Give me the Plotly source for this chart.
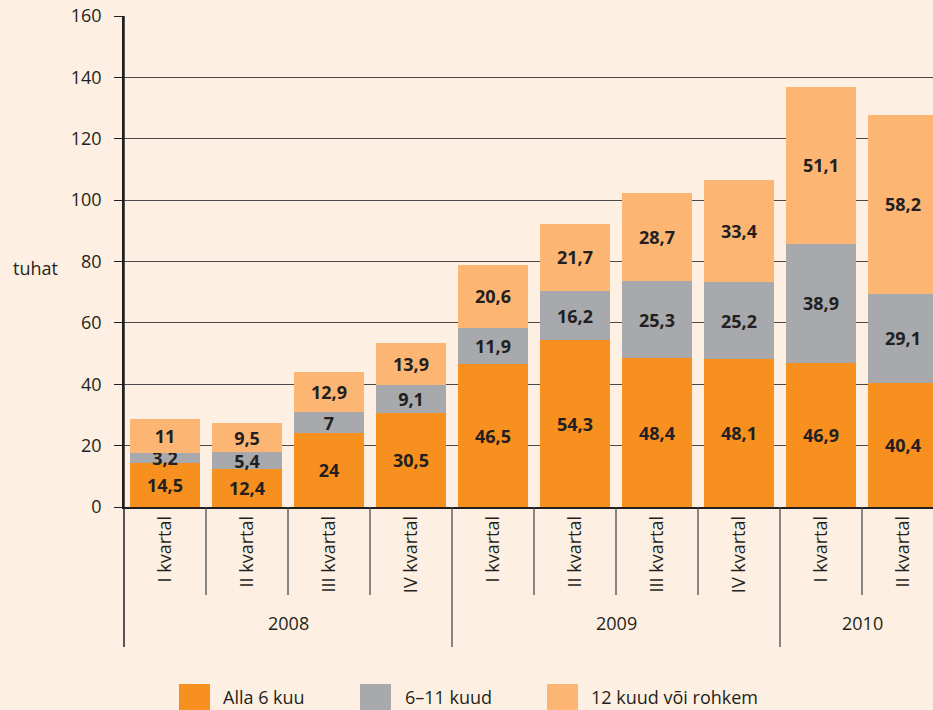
import plotly.graph_objects as go

# ---- data ----
quarters = ["I kvartal", "II kvartal", "III kvartal", "IV kvartal",
            "I kvartal", "II kvartal", "III kvartal", "IV kvartal",
            "I kvartal", "II kvartal"]
years = ["2008", "2009", "2010"]
year_spans = [4, 4, 2]
series_names = ["Alla 6 kuu", "6–11 kuud", "12 kuud või rohkem"]
alla6 = [14.5, 12.4, 24, 30.5, 46.5, 54.3, 48.4, 48.1, 46.9, 40.4]
kuud6_11 = [3.2, 5.4, 7, 9.1, 11.9, 16.2, 25.3, 25.2, 38.9, 29.1]
kuud12 = [11, 9.5, 12.9, 13.9, 20.6, 21.7, 28.7, 33.4, 51.1, 58.2]
y_unit = "tuhat"
y_ticks = [0, 20, 40, 60, 80, 100, 120, 140, 160]

colors = ["#F7901E", "#A7A9AC", "#FDB574"]
BG = "#FDF0E2"
TXT = "#231F20"
FONT = "Open Sans"

W, H = 933, 710
L, T, B = 124, 16, 203
PW, PH = W - L, H - T - B


def fmt(v):
    s = ("%g" % v)
    return s.replace(".", ",")


def px_x(px):
    return (px - L) / PW


def px_y(py):
    return (H - B - py) / PH


x = list(range(len(quarters)))
fig = go.Figure()
for name, vals, c in zip(series_names, [alla6, kuud6_11, kuud12], colors):
    fig.add_trace(go.Bar(
        x=x, y=vals, name=name, marker=dict(color=c, line=dict(width=0)),
        text=[fmt(v) for v in vals], textposition="inside",
        insidetextanchor="middle", textangle=0,
        textfont=dict(family=FONT, size=18, color=TXT, weight="bold"),
        showlegend=False,
    ))

shapes = []
annotations = []
# category separators
bounds = []
acc = 0
for s in year_spans:
    acc += s
    bounds.append(acc)
for i in range(1, len(quarters)):
    long = i in bounds
    shapes.append(dict(type="line", xref="x", yref="paper", x0=i - 0.5, x1=i - 0.5,
                       y0=0, y1=px_y(647 if long else 595),
                       line=dict(color="#4a4a4a", width=1.3)))
# y axis extension
shapes.append(dict(type="line", xref="paper", yref="paper", x0=0, x1=0,
                   y0=1, y1=px_y(647), line=dict(color="#231F20", width=1.5)))
# year labels
start = 0
for yr, s in zip(years, year_spans):
    annotations.append(dict(text=yr, xref="x", yref="paper", x=start + (s - 1) / 2,
                            y=px_y(623), showarrow=False, xanchor="center", yanchor="middle",
                            font=dict(family=FONT, size=18, color=TXT)))
    start += s
# unit label
annotations.append(dict(text=y_unit, xref="paper", yref="paper", x=px_x(11), y=px_y(268),
                        showarrow=False, xanchor="left", yanchor="middle",
                        font=dict(family=FONT, size=18, color=TXT)))
# legend
leg_sq = [179, 360, 547]
leg_tx = [221, 403, 589]
for name, c, sx, tx in zip(series_names, colors, leg_sq, leg_tx):
    shapes.append(dict(type="rect", xref="paper", yref="paper",
                       x0=px_x(sx), x1=px_x(sx + 31), y0=px_y(684), y1=px_y(712),
                       fillcolor=c, line=dict(width=0)))
    annotations.append(dict(text=name, xref="paper", yref="paper", x=px_x(tx), y=px_y(697),
                            showarrow=False, xanchor="left", yanchor="middle",
                            font=dict(family=FONT, size=18, color=TXT)))

fig.update_layout(
    width=W, height=H, barmode="stack", bargap=0.15,
    paper_bgcolor=BG, plot_bgcolor=BG,
    margin=dict(l=L, r=0, t=T, b=B, pad=0),
    font=dict(family=FONT, size=18, color=TXT),
    uniformtext=dict(minsize=18, mode="show"),
    shapes=shapes, annotations=annotations,
    xaxis=dict(range=[-0.5, -0.5 + PW / 82.0], tickmode="array", tickvals=x, ticktext=quarters,
               tickangle=-90, ticks="", showgrid=False, showline=True,
               linecolor="#231F20", linewidth=1.5, zeroline=False,
               tickfont=dict(family=FONT, size=18, color=TXT)),
    yaxis=dict(range=[0, 160], tickmode="array", tickvals=y_ticks, showgrid=True,
               gridcolor="#4a4a4a", gridwidth=1.2, ticks="outside", ticklen=8,
               tickcolor="#231F20", tickwidth=1.3, showline=True, linecolor="#231F20",
               linewidth=1.5, zeroline=False, ticklabelstandoff=9,
               tickfont=dict(family=FONT, size=18, color=TXT)),
)
fig.write_html("out.html", config={"displayModeBar": False},
               post_script="document.body.style.margin='0';document.body.style.padding='0';"
                           "document.body.style.overflow='hidden';")
